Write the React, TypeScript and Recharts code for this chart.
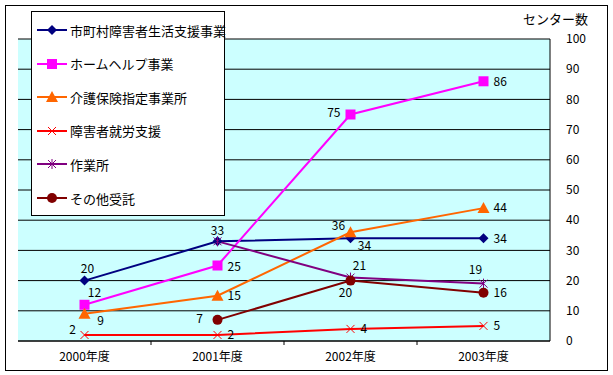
import React from "react";
import {
  LineChart,
  Line,
  XAxis,
  YAxis,
  CartesianGrid,
  Legend,
  LabelList,
} from "recharts";

const categories = ["2000年度", "2001年度", "2002年度", "2003年度"];
const shichoson = [20, 33, 34, 34];
const homeHelp = [12, 25, 75, 86];
const kaigo = [9, 15, 36, 44];
const shuro = [2, 2, 4, 5];
const sagyosho = [null, 33, 21, 19];
const sonota = [null, 7, 20, 16];
const yTicks = [0, 10, 20, 30, 40, 50, 60, 70, 80, 90, 100];

const data = categories.map((name, i) => ({
  name,
  shichoson: shichoson[i],
  homeHelp: homeHelp[i],
  kaigo: kaigo[i],
  shuro: shuro[i],
  sagyosho: sagyosho[i],
  sonota: sonota[i],
}));

const FONT = "'Noto Sans CJK JP', 'Noto Sans', sans-serif";

type Place = [number, number, "start" | "middle" | "end"] | null;

// label placement per point: dx, dy, anchor
const series = [
  {
    key: "shichoson",
    name: "市町村障害者生活支援事業",
    color: "#000080",
    shape: "diamond",
    labels: [[3, -11, "middle"], null, [14, 8, "middle"], [10, 1, "start"]] as Place[],
  },
  {
    key: "homeHelp",
    name: "ホームヘルプ事業",
    color: "#FF00FF",
    shape: "square",
    labels: [[10, -11, "middle"], [10, 2, "start"], [-10, -1, "end"], [10, 1, "start"]] as Place[],
  },
  {
    key: "kaigo",
    name: "介護保険指定事業所",
    color: "#FF6600",
    shape: "triangle",
    labels: [[16, 8, "middle"], [10, 1, "start"], [-12, -6, "middle"], [10, 1, "start"]] as Place[],
  },
  {
    key: "shuro",
    name: "障害者就労支援",
    color: "#FF0000",
    shape: "cross",
    labels: [[-12, -4, "middle"], [10, 1, "start"], [10, 1, "start"], [10, 1, "start"]] as Place[],
  },
  {
    key: "sagyosho",
    name: "作業所",
    color: "#800080",
    shape: "star",
    labels: [null, [0, -10, "middle"], [9, -11, "middle"], [-8, -13, "middle"]] as Place[],
  },
  {
    key: "sonota",
    name: "その他受託",
    color: "#800000",
    shape: "circle",
    labels: [null, [-18, 0, "middle"], [-5, 13, "middle"], [10, 1, "start"]] as Place[],
  },
];

function Marker({ shape, color, x, y }: { shape: string; color: string; x: number; y: number }) {
  switch (shape) {
    case "diamond":
      return <polygon points={`${x},${y - 5} ${x + 5},${y} ${x},${y + 5} ${x - 5},${y}`} fill={color} />;
    case "square":
      return <rect x={x - 5} y={y - 5} width={10} height={10} fill={color} />;
    case "triangle":
      return <polygon points={`${x},${y - 6} ${x + 6},${y + 5} ${x - 6},${y + 5}`} fill={color} />;
    case "cross":
      return (
        <g stroke={color} strokeWidth={1}>
          <line x1={x - 4} y1={y - 4} x2={x + 4} y2={y + 4} />
          <line x1={x - 4} y1={y + 4} x2={x + 4} y2={y - 4} />
        </g>
      );
    case "star":
      return (
        <g stroke={color} strokeWidth={1}>
          <line x1={x - 4} y1={y - 4} x2={x + 4} y2={y + 4} />
          <line x1={x - 4} y1={y + 4} x2={x + 4} y2={y - 4} />
          <line x1={x} y1={y - 5} x2={x} y2={y + 5} />
        </g>
      );
    default:
      return <circle cx={x} cy={y} r={5} fill={color} />;
  }
}

function makeDot(shape: string, color: string) {
  return (props: any) => {
    const { cx, cy, index, value } = props;
    if (value == null || cx == null || cy == null) return <g key={`d-${index}`} />;
    return (
      <g key={`d-${index}`}>
        <Marker shape={shape} color={color} x={cx} y={cy} />
      </g>
    );
  };
}

function makeLabel(places: Place[]) {
  return (props: any) => {
    const { x, y, value, index } = props;
    const p = places[index];
    if (value == null || !p) return null;
    return (
      <text
        x={x + p[0]}
        y={y + p[1]}
        textAnchor={p[2]}
        dominantBaseline="middle"
        fontSize={12}
        fontFamily={FONT}
        fill="#000"
      >
        {value}
      </text>
    );
  };
}

function LegendBox() {
  return (
    <div
      style={{
        width: 192,
        height: 203,
        border: "1px solid #000",
        background: "#fff",
        fontFamily: FONT,
        fontSize: 13,
        position: "relative",
      }}
    >
      {series.map((s, i) => (
        <div
          key={s.key}
          style={{
            position: "absolute",
            left: 4,
            top: 8 + i * 33.6,
            height: 20,
            display: "flex",
            alignItems: "center",
            whiteSpace: "nowrap",
          }}
        >
          <svg width={32} height={20}>
            <line x1={1} y1={10} x2={31} y2={10} stroke={s.color} strokeWidth={2} />
            <Marker shape={s.shape} color={s.color} x={16} y={10} />
          </svg>
          <span style={{ marginLeft: 2 }}>{s.name}</span>
        </div>
      ))}
    </div>
  );
}

const BAND = (550 - 18) / categories.length;

function XTick(props: any) {
  const { x, y, payload, index } = props;
  return (
    <g>
      {index < categories.length - 1 && (
        <line x1={x + BAND / 2} y1={y - 8} x2={x + BAND / 2} y2={y - 4} stroke="#000" />
      )}
      <text
        x={x}
        y={y + 12}
        textAnchor="middle"
        fontSize={12}
        fontFamily={FONT}
        fill="#000"
      >
        {payload.value}
      </text>
    </g>
  );
}

export default function App() {
  return (
    <div style={{ position: "absolute", left: 0, top: 0, width: 613, height: 375, background: "#fff" }}>
      <div
        style={{
          position: "absolute",
          left: 5,
          top: 5,
          width: 601,
          height: 364,
          border: "1px solid #000",
        }}
      />
      <div
        style={{
          position: "absolute",
          left: 523,
          top: 10,
          fontFamily: FONT,
          fontSize: 13,
          lineHeight: "18px",
        }}
      >
        センター数
      </div>
      <LineChart
        width={613}
        height={375}
        data={data}
        margin={{ top: 39, right: 0, left: 18, bottom: 0 }}
        style={{ position: "absolute", left: 0, top: 0 }}
      >
        <CartesianGrid vertical={false} stroke="#000" fill="#CCFFFF" fillOpacity={1} yAxisId="r" />
        <XAxis
          dataKey="name"
          height={34}
          axisLine={{ stroke: "#000" }}
          tickLine={false}
          tick={<XTick />}
          interval={0}
          padding={{ left: BAND / 2, right: BAND / 2 }}
        />
        <YAxis
          yAxisId="l"
          orientation="left"
          width={0}
          domain={[0, 100]}
          ticks={yTicks}
          tick={false}
          tickLine={false}
          axisLine={{ stroke: "#000" }}
        />
        <YAxis
          yAxisId="r"
          orientation="right"
          width={63}
          domain={[0, 100]}
          ticks={yTicks}
          tickLine={false}
          axisLine={{ stroke: "#000" }}
          tick={{ fontSize: 12, fontFamily: FONT, fill: "#000", textAnchor: "start" }}
          tickMargin={10}
        />
        <Legend
          content={<LegendBox />}
          layout="vertical"
          align="center"
          verticalAlign="middle"
          wrapperStyle={{ position: "absolute", left: 31, top: 11, width: 194, height: 205 }}
        />
        {series.map((s) => (
          <Line
            key={s.key}
            yAxisId="r"
            dataKey={s.key}
            name={s.name}
            stroke={s.color}
            strokeWidth={2}
            type="linear"
            dot={makeDot(s.shape, s.color)}
            activeDot={false}
            isAnimationActive={false}
          >
            <LabelList dataKey={s.key} content={makeLabel(s.labels)} />
          </Line>
        ))}
      </LineChart>
    </div>
  );
}
